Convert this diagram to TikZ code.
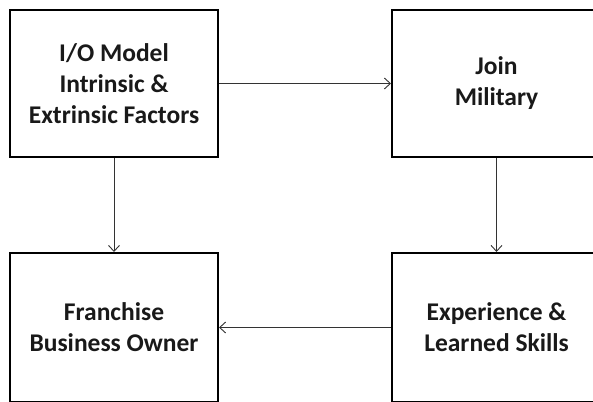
\documentclass[tikz,border=0pt]{standalone}
\usepackage{fontspec}
\setmainfont{Carlito}
\usetikzlibrary{arrows.meta}
\begin{document}
\begin{tikzpicture}[x=1pt,y=-1pt,
  boxnode/.style={draw=black, line width=2pt, rectangle, align=center,
    font=\fontsize{25.5}{31}\selectfont\bfseries, text=black!90, inner sep=0pt},
  conn/.style={draw=black!80, line width=0.9pt, -{Straight Barb[length=6pt,width=11pt]}}]
\useasboundingbox (0,0) rectangle (593,401);
\clip (0,0) rectangle (593,401);
\fill[white] (0,0) rectangle (593,401);
\node[boxnode, minimum width=208pt, minimum height=147pt] (io) at (114,83.5) {I/O Model\\Intrinsic \&\\Extrinsic Factors};
\node[boxnode, minimum width=209pt, minimum height=147pt] (mil) at (496.5,83.5) {Join\\Military};
\node[boxnode, minimum width=208pt, minimum height=149pt] (fbo) at (114,327.5) {Franchise\\Business Owner};
\node[boxnode, minimum width=209pt, minimum height=149pt] (exp) at (496.5,327.5) {Experience \&\\Learned Skills};
\draw[conn] (io.east) -- (mil.west);
\draw[conn] (io.south) -- (fbo.north);
\draw[conn] (mil.south) -- (exp.north);
\draw[conn] (exp.west) -- (fbo.west -| fbo.east);
\end{tikzpicture}
\end{document}
